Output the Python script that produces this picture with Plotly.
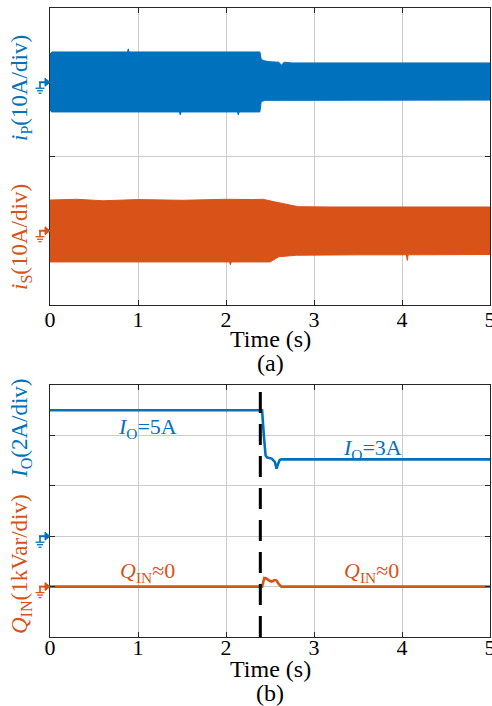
import plotly.graph_objects as go

# ---------------- data ----------------
# Panel (a): envelopes of the switching currents (A, relative to each channel's ground)
ip_t_up = [0.0, 0.02, 0.88, 0.89, 0.90, 1.5, 2.0, 2.385, 2.40, 2.43, 2.50, 2.60, 2.63, 2.66, 2.75, 3.5, 4.2, 5.0]
ip_up   = [1.90, 2.04, 2.04, 2.25, 2.04, 2.04, 2.04, 2.04, 1.55, 1.45, 1.38, 1.35, 1.15, 1.35, 1.30, 1.30, 1.30, 1.30]
ip_t_lo = [0.0, 0.02, 1.47, 1.48, 1.49, 2.13, 2.14, 2.15, 2.385, 2.40, 2.45, 3.5, 5.0]
ip_lo   = [-1.90, -2.00, -2.00, -2.20, -2.00, -2.00, -2.20, -2.00, -2.00, -1.30, -1.22, -1.20, -1.20]

is_t_up = [0.0, 0.3, 0.6, 1.0, 1.5, 2.0, 2.3, 2.42, 2.55, 2.70, 2.82, 3.2, 4.0, 5.0]
is_up   = [2.07, 2.12, 2.02, 2.10, 2.05, 2.12, 2.10, 2.12, 1.95, 1.75, 1.62, 1.60, 1.60, 1.60]
is_t_lo = [0.0, 1.8, 2.04, 2.05, 2.06, 2.50, 2.60, 2.80, 3.5, 4.05, 4.06, 4.07, 5.0]
is_lo   = [-2.10, -2.10, -2.10, -2.30, -2.10, -2.10, -1.75, -1.65, -1.62, -1.62, -2.00, -1.62, -1.60]

# Panel (b): output current (A) and input reactive power (kVar)
io_t = [0.0, 2.41, 2.43, 2.45, 2.47, 2.52, 2.555, 2.575, 2.59, 2.61, 2.63, 5.0]
io   = [5.0, 5.0, 4.0, 3.2, 3.12, 3.08, 2.95, 2.68, 2.85, 3.02, 3.05, 3.05]
q_t  = [0.0, 2.41, 2.435, 2.46, 2.49, 2.52, 2.55, 2.575, 2.60, 2.63, 5.0]
q    = [0.0, 0.0, 0.17, 0.16, 0.12, 0.10, 0.13, 0.12, 0.05, 0.0, 0.0]

t_step = 2.39
x_ticks = [0, 1, 2, 3, 4, 5]
x_labels = ["0", "1", "2", "3", "4", "5"]

# channel scales (units per division) and ground offsets (divisions)
IP_DIV, IP_GND = 10.0, 1.5
IS_DIV, IS_GND = 10.0, 0.5
IO_DIV, IO_GND = 2.0, 2.0
Q_DIV, Q_GND = 1.0, 1.0

BLUE = "#0072BD"
ORANGE = "#D95319"
FONT = "Times New Roman, Liberation Serif, Times, serif"

W, H = 492, 706
ML, MR, MT, MB = 50, 2, 8, 69
PW = W - ML - MR
PH = H - MT - MB
dom_a = [1 - 297 / PH, 1.0]
dom_b = [0.0, 252 / PH]
ppd_a = (dom_a[1] - dom_a[0]) * PH / 2.0   # pixels per division
ppd_b = (dom_b[1] - dom_b[0]) * PH / 5.0


def band(t_up, up, t_lo, lo, div, gnd):
    xs = list(t_up) + list(reversed(t_lo))
    ys = [gnd + v / div for v in up] + [gnd + v / div for v in reversed(lo)]
    return xs, ys


fig = go.Figure()

x, y = band(ip_t_up, ip_up, ip_t_lo, ip_lo, IP_DIV, IP_GND)
fig.add_trace(go.Scatter(x=x, y=y, fill="toself", fillcolor=BLUE, mode="lines",
                         line=dict(color=BLUE, width=1), xaxis="x", yaxis="y", hoverinfo="skip"))
x, y = band(is_t_up, is_up, is_t_lo, is_lo, IS_DIV, IS_GND)
fig.add_trace(go.Scatter(x=x, y=y, fill="toself", fillcolor=ORANGE, mode="lines",
                         line=dict(color=ORANGE, width=1), xaxis="x", yaxis="y", hoverinfo="skip"))

fig.add_trace(go.Scatter(x=io_t, y=[IO_GND + v / IO_DIV for v in io], mode="lines",
                         line=dict(color=BLUE, width=2.6), xaxis="x2", yaxis="y2"))
fig.add_trace(go.Scatter(x=q_t, y=[Q_GND + v / Q_DIV for v in q], mode="lines",
                         line=dict(color=ORANGE, width=2.6), xaxis="x2", yaxis="y2"))

shapes = []
# dashed step marker
shapes.append(dict(type="line", xref="x2", yref="y2 domain", x0=t_step, x1=t_step, y0=0, y1=1,
                   line=dict(color="black", width=3, dash="21px,11px"), layer="above"))


def ground_icon(yref, gnd, ppd, color):
    def X(dx):
        return dx / PW

    def Y(dy):
        return gnd - dy / ppd
    ln = dict(color=color, width=1.6)
    shapes.append(dict(type="line", xref="paper", yref=yref, x0=X(-11), x1=X(-3), y0=Y(0), y1=Y(0), line=dict(color=color, width=2)))
    shapes.append(dict(type="path", xref="paper", yref=yref,
                       path=f"M {X(-5)},{Y(-4)} L {X(0)},{Y(0)} L {X(-5)},{Y(4)} Z",
                       fillcolor=color, line=dict(color=color, width=1)))
    shapes.append(dict(type="line", xref="paper", yref=yref, x0=X(-10), x1=X(-10), y0=Y(0), y1=Y(6), line=ln))
    for dy, hw in [(6, 4.5), (8.5, 3), (11, 1.5)]:
        shapes.append(dict(type="line", xref="paper", yref=yref, x0=X(-10 - hw), x1=X(-10 + hw),
                           y0=Y(dy), y1=Y(dy), line=dict(color=color, width=1.3)))


ground_icon("y", IP_GND, ppd_a, BLUE)
ground_icon("y", IS_GND, ppd_a, ORANGE)
ground_icon("y2", IO_GND, ppd_b, BLUE)
ground_icon("y2", Q_GND, ppd_b, ORANGE)


def py(pix):
    return (H - MB - pix) / PH


LX = -29 / PW
LBL = 23
annotations = [
    dict(text="<i>i</i><sub>P</sub>(10A/div)", xref="paper", yref="paper", x=LX, y=py(88),
         xanchor="center", yanchor="middle", textangle=-90, showarrow=False,
         font=dict(family=FONT, size=LBL, color=BLUE)),
    dict(text="<i>i</i><sub>S</sub>(10A/div)", xref="paper", yref="paper", x=LX, y=py(237),
         xanchor="center", yanchor="middle", textangle=-90, showarrow=False,
         font=dict(family=FONT, size=LBL, color=ORANGE)),
    dict(text="<i>I</i><sub>O</sub>(2A/div)", xref="paper", yref="paper", x=LX, y=py(428),
         xanchor="center", yanchor="middle", textangle=-90, showarrow=False,
         font=dict(family=FONT, size=LBL, color=BLUE)),
    dict(text="<i>Q</i><sub>IN</sub>(1kVar/div)", xref="paper", yref="paper", x=LX, y=py(564),
         xanchor="center", yanchor="middle", textangle=-90, showarrow=False,
         font=dict(family=FONT, size=LBL, color=ORANGE)),
    dict(text="Time (s)", xref="paper", yref="paper", x=0.5, y=py(339), showarrow=False,
         xanchor="center", yanchor="middle", font=dict(family=FONT, size=24, color="black")),
    dict(text="(a)", xref="paper", yref="paper", x=0.5, y=py(363), showarrow=False,
         xanchor="center", yanchor="middle", font=dict(family=FONT, size=24, color="black")),
    dict(text="Time (s)", xref="paper", yref="paper", x=0.5, y=py(669), showarrow=False,
         xanchor="center", yanchor="middle", font=dict(family=FONT, size=24, color="black")),
    dict(text="(b)", xref="paper", yref="paper", x=0.5, y=py(693), showarrow=False,
         xanchor="center", yanchor="middle", font=dict(family=FONT, size=24, color="black")),
    dict(text="<i>I</i><sub>O</sub>=5A", xref="x2", yref="y2", x=1.11, y=4.15, showarrow=False,
         font=dict(family=FONT, size=22, color=BLUE)),
    dict(text="<i>I</i><sub>O</sub>=3A", xref="x2", yref="y2", x=3.67, y=3.73, showarrow=False,
         font=dict(family=FONT, size=22, color=BLUE)),
    dict(text="<i>Q</i><sub>IN</sub>≈0", xref="x2", yref="y2", x=1.11, y=1.29, showarrow=False,
         font=dict(family=FONT, size=22, color=ORANGE)),
    dict(text="<i>Q</i><sub>IN</sub>≈0", xref="x2", yref="y2", x=3.65, y=1.29, showarrow=False,
         font=dict(family=FONT, size=22, color=ORANGE)),
]

xax = dict(range=[0, 5], tickvals=x_ticks, ticktext=x_labels, showgrid=True, gridcolor="#cccccc",
           gridwidth=1, showline=True, linecolor="#262626", linewidth=1, mirror="ticks",
           ticks="inside", ticklen=5, tickcolor="#262626", zeroline=False, automargin=False,
           ticklabeloverflow="allow",
           tickfont=dict(family=FONT, size=22, color="black"))
yax = dict(showgrid=True, gridcolor="#cccccc", gridwidth=1, showline=True, linecolor="#262626",
           linewidth=1, mirror="ticks", ticks="inside", ticklen=5, tickcolor="#262626",
           showticklabels=False, zeroline=False, dtick=1, automargin=False)

fig.update_layout(
    width=W, height=H, margin=dict(l=ML, r=MR, t=MT, b=MB),
    paper_bgcolor="white", plot_bgcolor="white", showlegend=False,
    xaxis=dict(xax, anchor="y", ticklabelstandoff=-5),
    yaxis=dict(yax, domain=dom_a, range=[0, 2], anchor="x"),
    xaxis2=dict(xax, anchor="y2", ticklabelstandoff=-9),
    yaxis2=dict(yax, domain=dom_b, range=[0, 5], anchor="x2"),
    shapes=shapes, annotations=annotations,
    font=dict(family=FONT),
)

fig.write_html("out.html")
